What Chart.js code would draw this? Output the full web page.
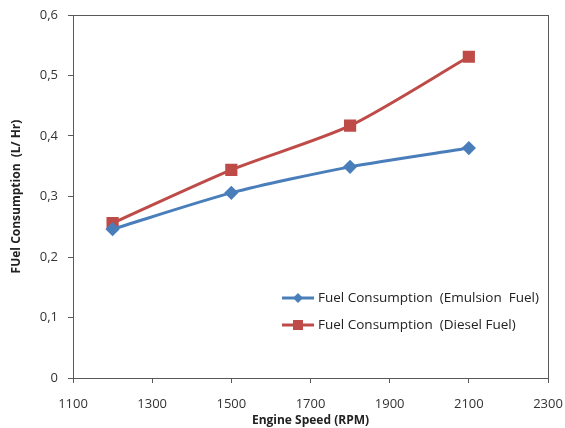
<!DOCTYPE html>
<html>
<head>
<meta charset="utf-8" />
<title>Fuel Consumption vs Engine Speed</title>
<script src="https://cdn.jsdelivr.net/npm/chart.js"></script>
<style>
  body { margin:0; padding:0; background:#fff; }
  #wrap { width:565px; height:428px; }
</style>
</head>
<body>
<div id="wrap"><canvas id="chart" width="565" height="428"></canvas></div>
<script>
const speeds = [1200, 1500, 1800, 2100];
const emulsion = [0.246, 0.306, 0.349, 0.380];
const diesel = [0.256, 0.344, 0.417, 0.531];
const xTicks = [1100, 1300, 1500, 1700, 1900, 2100, 2300];
const yTicks = [0, 0.1, 0.2, 0.3, 0.4, 0.5, 0.6];

const font = "'Open Sans', 'Liberation Sans', sans-serif";
const axisColor = '#595959';

function pts(vals) {
  return speeds.map((s, i) => ({ x: s, y: vals[i] }));
}

// box round the plot area and the legend inside it
const boxAndLegend = {
  id: 'boxAndLegend',
  afterDraw(chart) {
    const ctx = chart.ctx;
    const a = chart.chartArea;
    ctx.save();
    ctx.strokeStyle = axisColor;
    ctx.lineWidth = 1;
    ctx.strokeRect(a.left + 0.5, a.top + 0.5, a.right - a.left, a.bottom - a.top);

    const x0 = 282, lineW = 32;
    chart.data.datasets.forEach((ds, i) => {
      const y = 298 + i * 27;
      ctx.strokeStyle = ds.borderColor;
      ctx.lineWidth = 3;
      ctx.beginPath();
      ctx.moveTo(x0, y);
      ctx.lineTo(x0 + lineW, y);
      ctx.stroke();
      ctx.fillStyle = ds.backgroundColor;
      const cx = x0 + lineW / 2;
      if (ds.pointStyle === 'rect') {
        ctx.fillRect(cx - 5, y - 5, 10, 10);
      } else {
        ctx.beginPath();
        ctx.moveTo(cx, y - 5); ctx.lineTo(cx + 5, y); ctx.lineTo(cx, y + 5); ctx.lineTo(cx - 5, y);
        ctx.closePath();
        ctx.fill();
      }
      ctx.fillStyle = '#222';
      ctx.font = '13.5px ' + font;
      ctx.textBaseline = 'middle';
      ctx.fillText(ds.label, x0 + lineW + 4, y);
    });
    ctx.restore();
  }
};

new Chart(document.getElementById('chart'), {
  type: 'line',
  data: {
    datasets: [
      {
        label: 'Fuel Consumption  (Emulsion  Fuel)',
        data: pts(emulsion),
        borderColor: '#4A7EBB',
        backgroundColor: '#4A7EBB',
        borderWidth: 3,
        pointStyle: 'rectRot',
        pointRadius: 5,
        pointHoverRadius: 5,
        tension: 0.25
      },
      {
        label: 'Fuel Consumption  (Diesel Fuel)',
        data: pts(diesel),
        borderColor: '#BE4B48',
        backgroundColor: '#BE4B48',
        borderWidth: 3,
        pointStyle: 'rect',
        pointRadius: 6.5,
        pointHoverRadius: 6.5,
        tension: 0.25
      }
    ]
  },
  options: {
    responsive: false,
    animation: false,
    layout: { padding: { top: 15, right: 17, left: 9, bottom: 0 } },
    plugins: { legend: { display: false }, tooltip: { enabled: false } },
    scales: {
      x: {
        type: 'linear',
        min: 1100,
        max: 2300,
        afterBuildTicks(scale) { scale.ticks = xTicks.map(v => ({ value: v })); },
        afterFit(scale) { scale.height = 50; scale.paddingLeft = 0; scale.paddingRight = 0; },
        grid: { display: true, drawOnChartArea: false, drawTicks: true, tickLength: 5, color: axisColor },
        border: { display: true, color: axisColor },
        ticks: { color: '#333', font: { family: font, size: 13 }, padding: 13, callback: v => String(v) },
        title: { display: true, text: 'Engine Speed (RPM)', color: '#222', font: { family: font, size: 12, weight: 'bold' }, padding: { top: 0, bottom: 0 } }
      },
      y: {
        min: 0,
        max: 0.6,
        afterBuildTicks(scale) { scale.ticks = yTicks.map(v => ({ value: v })); },
        afterFit(scale) { scale.width = 64; scale.paddingTop = 0; scale.paddingBottom = 0; },
        grid: { display: true, drawOnChartArea: false, drawTicks: true, tickLength: 5, color: axisColor },
        border: { display: true, color: axisColor },
        ticks: {
          color: '#333',
          font: { family: font, size: 13 },
          padding: 10,
          callback: v => v === 0 ? '0' : v.toFixed(1).replace('.', ',')
        },
        title: { display: true, text: 'FUel Consumption  (L/ Hr)', color: '#222', font: { family: font, size: 12, weight: 'bold' }, padding: { top: 0, bottom: 4 } }
      }
    }
  },
  plugins: [boxAndLegend]
});
</script>
</body>
</html>
